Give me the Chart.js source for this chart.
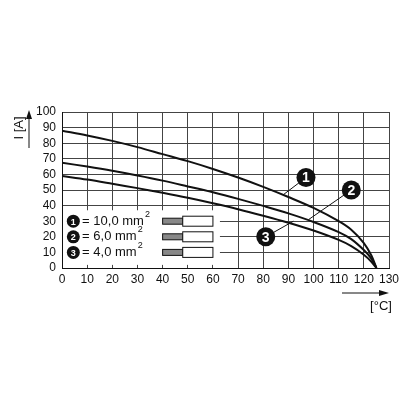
<!DOCTYPE html>
<html><head><meta charset="utf-8">
<script src="https://cdn.jsdelivr.net/npm/chart.js@4"></script>
<style>body{margin:0;background:#fff}#w{width:416px;height:416px}</style>
</head><body><div id="w"><canvas id="c"></canvas></div>
<script>
const curve1 = [[0,88],[10,85],[20,81.5],[30,77.5],[40,73],[50,68.5],[60,63.5],[70,58],[80,52],[90,45.5],[100,38.5],[110,30],[115,24.5],[120,16],[123,8],[125,0]];
const curve2 = [[0,67.5],[10,65],[20,62.3],[30,59.3],[40,56],[50,52.3],[60,48.5],[70,44.3],[80,39.8],[90,35],[100,29.5],[110,23],[115,18.5],[120,11.5],[123,6],[125,0]];
const curve3 = [[0,59],[10,56.7],[20,54],[30,51.2],[40,48.2],[50,45],[60,41.5],[70,37.7],[80,33.5],[90,29],[100,24],[110,18],[115,14],[120,8.5],[123,4],[125,0]];
const legendLabels = ['= 10,0 mm', '= 6,0 mm', '= 4,0 mm'];
// callouts: [num, circleX, circleY, lineToX, lineToY]
const callouts = [['1',97,58,88,47],['2',115,50,98,31],['3',81,20,92,30]];

const F = '"Liberation Sans", Arial, sans-serif';
const toPts = a => a.map(p => ({x:p[0], y:p[1]}));
const ds = c => ({data: toPts(c), borderColor:'#111', borderWidth:2, pointRadius:0, fill:false, tension:0.35});

function disc(ctx, x, y, r, t, fs) {
  ctx.beginPath(); ctx.arc(x, y, r, 0, 2*Math.PI); ctx.fillStyle='#111'; ctx.fill();
  ctx.fillStyle='#fff'; ctx.font='bold '+fs+'px '+F; ctx.textAlign='center'; ctx.textBaseline='middle';
  ctx.fillText(t, x, y+1);
}

const deco = {
  id:'deco',
  beforeDatasetsDraw(ch) {
    const {ctx, scales:{x, y}} = ch;
    ctx.save();
    ctx.fillStyle='#fff';
    ctx.fillRect(x.getPixelForValue(0)+1, y.getPixelForValue(37), x.getPixelForValue(60)-x.getPixelForValue(0)+6, y.getPixelForValue(2)-y.getPixelForValue(37));
    legendLabels.forEach((l, i) => {
      const py = y.getPixelForValue(30 - i*10);
      disc(ctx, x.getPixelForValue(4.5), py, 6.5, String(i+1), 9);
      ctx.fillStyle='#111'; ctx.font='13px '+F; ctx.textAlign='left'; ctx.textBaseline='middle';
      ctx.fillText(l, x.getPixelForValue(8), py);
      const w = ctx.measureText(l).width;
      ctx.font='9px '+F; ctx.fillText('2', x.getPixelForValue(8)+w+1, py-7);
      const wx = x.getPixelForValue(40), ex = x.getPixelForValue(48), bx = x.getPixelForValue(60);
      ctx.fillStyle='#888'; ctx.fillRect(wx, py-3, ex-wx, 6);
      ctx.strokeStyle='#111'; ctx.lineWidth=1;
      ctx.strokeRect(wx, py-3, ex-wx, 6);
      ctx.fillStyle='#fff'; ctx.fillRect(ex, py-5, bx-ex, 10); ctx.strokeRect(ex, py-5, bx-ex, 10);
    });
    ctx.restore();
  },
  afterDatasetsDraw(ch) {
    const {ctx, scales:{x, y}} = ch;
    ctx.save();
    callouts.forEach(c => {
      ctx.strokeStyle='#111'; ctx.lineWidth=1; ctx.beginPath();
      ctx.moveTo(x.getPixelForValue(c[1]), y.getPixelForValue(c[2]));
      ctx.lineTo(x.getPixelForValue(c[3]), y.getPixelForValue(c[4])); ctx.stroke();
      disc(ctx, x.getPixelForValue(c[1]), y.getPixelForValue(c[2]), 9.5, c[0], 14);
    });
    // axis titles + arrows
    ctx.fillStyle='#111'; ctx.strokeStyle='#111'; ctx.lineWidth=1;
    ctx.beginPath(); ctx.moveTo(29, 148); ctx.lineTo(29, 118); ctx.stroke();
    ctx.beginPath(); ctx.moveTo(29, 110); ctx.lineTo(26, 119); ctx.lineTo(32, 119); ctx.fill();
    ctx.save(); ctx.translate(19, 128); ctx.rotate(-Math.PI/2);
    ctx.font='13px '+F; ctx.textAlign='center'; ctx.textBaseline='middle'; ctx.fillText('I [A]', 0, 0); ctx.restore();
    ctx.beginPath(); ctx.moveTo(342, 293); ctx.lineTo(380, 293); ctx.stroke();
    ctx.beginPath(); ctx.moveTo(389, 293); ctx.lineTo(379, 290); ctx.lineTo(379, 296); ctx.fill();
    ctx.font='13px '+F; ctx.textAlign='center'; ctx.textBaseline='middle'; ctx.fillText('[°C]', 381, 306);
    ctx.restore();
  }
};

new Chart(document.getElementById('c'), {
  type:'line',
  data:{datasets:[ds(curve1), ds(curve2), ds(curve3)]},
  options:{
    responsive:true, maintainAspectRatio:false, animation:false,
    layout:{padding:{left:0, right:27, top:112, bottom:128}},
    plugins:{legend:{display:false}, tooltip:{enabled:false}},
    scales:{
      x:{type:'linear', min:0, max:130, afterFit:s => { s.height = 20; },
         ticks:{stepSize:10, autoSkip:false, color:'#111', font:{family:F, size:12}, maxRotation:0, padding:4},
         grid:{color:'#444', lineWidth:1, tickLength:0}, border:{color:'#111'}},
      y:{min:0, max:100, afterFit:s => { s.width = 62; },
         ticks:{stepSize:10, autoSkip:false, color:'#111', font:{family:F, size:12}, padding:6},
         grid:{color:'#444', lineWidth:1, tickLength:0}, border:{color:'#111'}}
    }
  },
  plugins:[deco]
});
</script></body></html>
